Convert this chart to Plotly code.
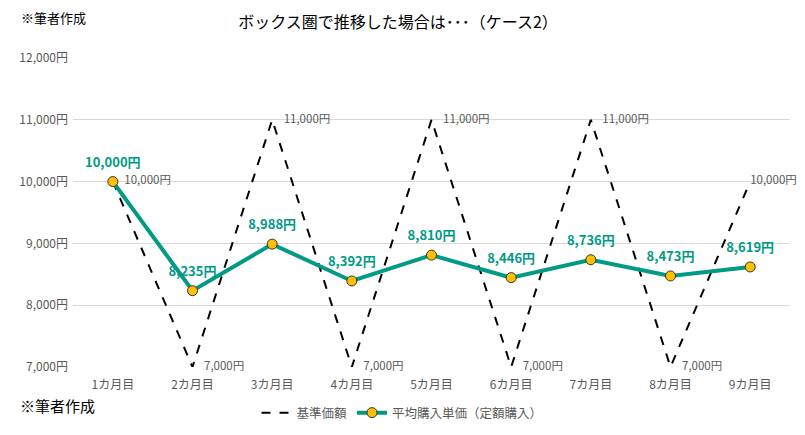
import plotly.graph_objects as go

months = ["1カ月目", "2カ月目", "3カ月目", "4カ月目", "5カ月目", "6カ月目", "7カ月目", "8カ月目", "9カ月目"]
base_price = [10000, 7000, 11000, 7000, 11000, 7000, 11000, 7000, 10000]
avg_price = [10000, 8235, 8988, 8392, 8810, 8446, 8736, 8473, 8619]

FONT = "Noto Sans CJK JP"
TEAL = "#009A85"
GRAY = "#595959"

base_labels = [("\u2002\u2002" if i < len(base_price) - 1 else "") + f"{v:,}円" for i, v in enumerate(base_price)]

fig = go.Figure()
fig.add_trace(go.Scatter(
    x=months, y=base_price, name="基準価額", mode="lines+text",
    line=dict(color="black", width=2, dash="dash"),
    text=base_labels, textposition="middle right",
    textfont=dict(color=GRAY, size=11.5, family=FONT), cliponaxis=False,
))
fig.add_trace(go.Scatter(
    x=months, y=avg_price, name="平均購入単価（定額購入）", mode="lines+markers",
    line=dict(color=TEAL, width=4),
    marker=dict(color="#FFC000", size=10, line=dict(color="#333333", width=1)),
    cliponaxis=False,
))
# data labels for the average line (transparent larger markers to lift text)
fig.add_trace(go.Scatter(
    x=months, y=avg_price, mode="markers+text", showlegend=False, hoverinfo="skip",
    marker=dict(color="rgba(0,0,0,0)", size=17),
    text=[f"<b>{v:,}円</b>" for v in avg_price], textposition="top center",
    textfont=dict(color=TEAL, size=13, family=FONT), cliponaxis=False,
))

fig.update_layout(
    width=805, height=435,
    margin=dict(l=73, r=15, t=58, b=68, autoexpand=False),
    paper_bgcolor="white", plot_bgcolor="white",
    font=dict(family=FONT, color=GRAY, size=12),
    title=dict(text="ボックス圏で推移した場合は･･･（ケース2）", x=398 / 805, xanchor="center",
               xref="container", y=1 - 22 / 435, yref="container", yanchor="middle",
               font=dict(size=16, color="black", family=FONT)),
    showlegend=True,
    legend=dict(orientation="h", x=(402 - 73) / 717, xanchor="center", y=-46 / 309, yanchor="middle",
                font=dict(size=12.5, color=GRAY, family=FONT)),
    xaxis=dict(range=[-0.5, len(months) - 0.5], showgrid=False, showline=False, ticks="",
               ticklabelstandoff=9, tickfont=dict(size=12, color=GRAY)),
    yaxis=dict(range=[7000, 12000], dtick=1000, tickformat=",", ticksuffix="円",
               showgrid=True, gridcolor="#D9D9D9", gridwidth=1, zeroline=False,
               ticklabelstandoff=4, tickfont=dict(size=12, color=GRAY)),
    annotations=[
        dict(text="※筆者作成", xref="paper", yref="paper", x=(19 - 73) / 717, y=1 + 40 / 309,
             xanchor="left", yanchor="middle",
             showarrow=False, font=dict(size=13, color="black", family=FONT)),
        dict(text="※筆者作成", xref="paper", yref="paper", x=(18 - 73) / 717, y=-38 / 309,
             xanchor="left", yanchor="middle",
             showarrow=False, font=dict(size=15, color="black", family=FONT)),
    ],
)

fig.write_html("out.html", config={"displayModeBar": False},
               post_script="document.body.style.margin='0';document.body.style.overflow='hidden';")
